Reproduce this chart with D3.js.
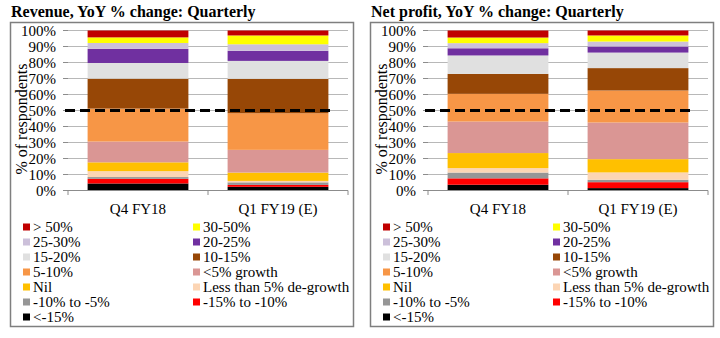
<!DOCTYPE html>
<html>
<head>
<meta charset="utf-8">
<script src="https://cdn.jsdelivr.net/npm/d3@7"></script>
<style>
body { margin: 0; background: #fff; }
text { font-family: "Liberation Serif", "DejaVu Serif", serif; fill: #000; }
</style>
</head>
<body>
<svg id="chart" width="720" height="338"></svg>
<script>
// categories and series (bottom of stack first)
var categories = ["Q4 FY18", "Q1 FY19 (E)"];
var seriesNames = ["<-15%", "-15% to -10%", "-10% to -5%", "Less than 5% de-growth", "Nil",
	"<5% growth", "5-10%", "10-15%", "15-20%", "20-25%", "25-30%", "30-50%", "> 50%"];
var seriesColors = ["#000000", "#ff0000", "#969696", "#fcd5b4", "#ffc000",
	"#da9694", "#f79646", "#974706", "#e0e0e0", "#7030a0", "#ccc0da", "#ffff00", "#c00000"];
var yTicks = [0, 10, 20, 30, 40, 50, 60, 70, 80, 90, 100];

// % of respondents
var revenueQ4 = [4.4, 2.9, 1.1, 3.7, 5.5, 13.0, 20.6, 18.7, 9.8, 8.8, 3.7, 3.5, 4.3];
var revenueQ1 = [2.3, 1.2, 1.6, 0.9, 5.2, 14.2, 22.9, 21.5, 11.2, 6.3, 4.1, 5.5, 3.1];
var profitQ4  = [3.6, 4.0, 3.6, 2.8, 9.4, 19.7, 17.3, 12.5, 11.5, 4.5, 3.2, 3.5, 4.4];
var profitQ1  = [1.5, 3.7, 1.5, 4.6, 8.3, 22.9, 20.0, 14.0, 9.7, 3.8, 3.1, 3.8, 3.1];

var svg = d3.select("#chart");

function drawPanel(offsetX, title, q4, q1) {
	var g = svg.append("g").attr("transform", "translate(" + offsetX + ",0)");

	// frame
	g.append("rect")
		.attr("x", 10.5).attr("y", 22.5)
		.attr("width", 343).attr("height", 304)
		.attr("fill", "none").attr("stroke", "#7f7f7f").attr("stroke-width", 1.5);

	g.append("text")
		.attr("x", 11).attr("y", 17)
		.attr("font-size", 16).attr("font-weight", "bold")
		.text(title);

	var x = d3.scaleBand().domain(categories).range([68, 348]).paddingInner(0.28).paddingOuter(0.14);
	var y = d3.scaleLinear().domain([0, 100]).range([190.5, 30.5]);

	// gridlines
	g.append("g").selectAll("line").data(yTicks.slice(1)).join("line")
		.attr("x1", 68).attr("x2", 348)
		.attr("y1", function(d) { return y(d); }).attr("y2", function(d) { return y(d); })
		.attr("stroke", "#b8b8b8").attr("stroke-width", 1);

	// y ticks + labels
	g.append("g").selectAll("line").data(yTicks).join("line")
		.attr("x1", 63).attr("x2", 68)
		.attr("y1", function(d) { return y(d); }).attr("y2", function(d) { return y(d); })
		.attr("stroke", "#8c8c8c");
	g.append("g").selectAll("text").data(yTicks).join("text")
		.attr("x", 56).attr("y", function(d) { return y(d) + 5; })
		.attr("text-anchor", "end").attr("font-size", 15)
		.text(function(d) { return d + "%"; });

	g.append("text")
		.attr("transform", "translate(27,119) rotate(-90)")
		.attr("text-anchor", "middle").attr("font-size", 16)
		.text("% of respondents");

	// stacked bars
	var rows = categories.map(function(c, i) {
		var r = { cat: c };
		var vals = i === 0 ? q4 : q1;
		seriesNames.forEach(function(s, j) { r[s] = vals[j]; });
		return r;
	});
	var stack = d3.stack().keys(seriesNames)(rows);

	g.append("g").selectAll("g").data(stack).join("g")
		.attr("fill", function(d, i) { return seriesColors[i]; })
		.selectAll("rect").data(function(d) { return d; }).join("rect")
		.attr("x", function(d) { return x(d.data.cat); })
		.attr("width", x.bandwidth())
		.attr("y", function(d) { return y(d[1]); })
		.attr("height", function(d) { return y(d[0]) - y(d[1]); });

	// bottom axis
	g.append("line")
		.attr("x1", 68).attr("x2", 348).attr("y1", 190.5).attr("y2", 190.5)
		.attr("stroke", "#8c8c8c");
	var step = (348 - 68) / categories.length;
	g.append("g").selectAll("line").data(d3.range(categories.length + 1)).join("line")
		.attr("x1", function(d) { return 68 + d * step; }).attr("x2", function(d) { return 68 + d * step; })
		.attr("y1", 190.5).attr("y2", 195)
		.attr("stroke", "#8c8c8c");
	g.append("g").selectAll("text").data(categories).join("text")
		.attr("x", function(d) { return x(d) + x.bandwidth() / 2; })
		.attr("y", 214)
		.attr("text-anchor", "middle").attr("font-size", 15)
		.text(function(d) { return d; });

	// 50% dashed line
	g.append("line")
		.attr("x1", 65).attr("x2", 333)
		.attr("y1", y(50)).attr("y2", y(50))
		.attr("stroke", "#000").attr("stroke-width", 3)
		.attr("stroke-dasharray", "10,5");

	// legend, top of stack first, two per row
	var legendItems = seriesNames.map(function(s, i) { return { name: s, color: seriesColors[i] }; }).reverse();
	var lg = g.append("g").selectAll("g").data(legendItems).join("g")
		.attr("transform", function(d, i) {
			return "translate(" + (i % 2 === 0 ? 23 : 193) + "," + (227 + Math.floor(i / 2) * 15) + ")";
		});
	lg.append("rect")
		.attr("x", 0).attr("y", -3.5).attr("width", 7).attr("height", 7)
		.attr("fill", function(d) { return d.color; });
	lg.append("text")
		.attr("x", 10).attr("y", 5)
		.attr("font-size", 15)
		.text(function(d) { return d.name; });
}

drawPanel(0, "Revenue, YoY % change: Quarterly", revenueQ4, revenueQ1);
drawPanel(360, "Net profit, YoY % change: Quarterly", profitQ4, profitQ1);
</script>
</body>
</html>
